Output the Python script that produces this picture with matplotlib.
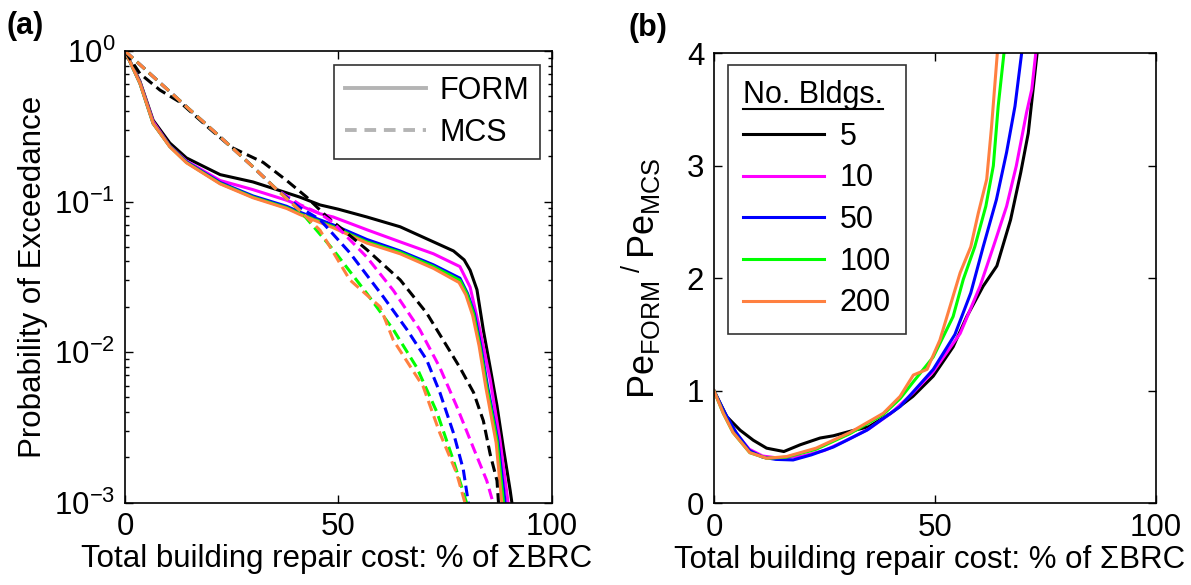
import numpy as np
import matplotlib
matplotlib.use("Agg")
import matplotlib.pyplot as plt
from matplotlib.lines import Line2D

plt.rcParams['font.family'] = ['Liberation Sans', 'DejaVu Sans']
plt.rcParams['mathtext.default'] = 'regular'

# ---- data: (a) probability of exceedance vs total repair cost (% of sum BRC)
# FORM (solid)
x_form_5 = [0, 3.5, 6.6, 10.5, 14.4, 22.3, 30, 35.6, 41, 45.7, 50, 56.7, 64.5, 72.3, 77, 79.5,
            80.9, 82.5, 84, 85.6, 87.2, 88.7, 90.3, 90.8]
p_form_5 = [1.0, 0.63, 0.347, 0.245, 0.195, 0.151, 0.135, 0.12, 0.107, 0.095, 0.089, 0.079, 0.068,
            0.054, 0.047, 0.041, 0.035, 0.026, 0.014, 0.0079, 0.0044, 0.0023, 0.0012, 0.00095]
x_form_10 = [0, 3.5, 6.6, 10.5, 14.4, 22.3, 30, 37.9, 45.7, 48.8, 56.7, 64.5, 72.3, 78.5, 80.9,
             83.2, 85.6, 87.9, 89.9]
p_form_10 = [1.0, 0.62, 0.34, 0.234, 0.186, 0.138, 0.12, 0.102, 0.083, 0.079, 0.065, 0.054, 0.045,
             0.037, 0.027, 0.014, 0.0066, 0.0026, 0.00095]
x_form_50 = [0, 3.5, 6.6, 10.5, 14.4, 22.3, 30, 37.9, 41, 48.8, 56.7, 64.5, 72.3, 78.5, 80.3, 81.9,
             83.4, 85.0, 87.4, 89.2]
p_form_50 = [1.0, 0.61, 0.33, 0.233, 0.184, 0.134, 0.109, 0.093, 0.085, 0.07, 0.056, 0.047, 0.038,
             0.031, 0.0245, 0.018, 0.011, 0.0059, 0.0026, 0.00095]
x_form_100 = [0, 3.5, 6.6, 10.5, 14.4, 22.3, 30, 37.9, 41, 48.8, 56.7, 64.5, 72.3, 78.5, 80.1, 81.7,
              83.2, 84.8, 87.2, 88.8]
p_form_100 = [1.0, 0.61, 0.33, 0.232, 0.182, 0.132, 0.107, 0.091, 0.083, 0.068, 0.054, 0.046,
              0.037, 0.030, 0.0245, 0.018, 0.011, 0.0059, 0.0026, 0.00095]
x_form_200 = [0, 3.5, 6.6, 10.5, 14.4, 22.3, 30, 37.9, 41, 48.8, 56.7, 64.5, 72.3, 78.3, 79.9, 81.5,
              83.0, 84.6, 87.0, 88.4]
p_form_200 = [1.0, 0.61, 0.33, 0.231, 0.181, 0.131, 0.106, 0.09, 0.082, 0.067, 0.053, 0.045,
              0.036, 0.029, 0.024, 0.0175, 0.011, 0.0058, 0.0025, 0.00095]

# MCS (dashed)
x_mcs_5 = [0, 3.5, 8.2, 12.9, 20, 25, 32.4, 37.9, 42.6, 47.3, 51.2, 56.7, 64.5, 70.7, 74.6, 78.5,
           81.7, 84, 85.6, 87.2, 87.6]
p_mcs_5 = [1.0, 0.708, 0.550, 0.457, 0.302, 0.229, 0.182, 0.138, 0.107, 0.0794, 0.0646, 0.0479,
           0.0302, 0.0182, 0.0120, 0.0079, 0.0054, 0.0035, 0.0021, 0.0014, 0.00095]
x_mcs_10 = [0, 3.5, 6.6, 14.4, 22.3, 30, 35.6, 41, 45.7, 48.8, 56.7, 62.9, 69.1, 73.8, 77.7, 81.7,
            84.8, 86.5]
p_mcs_10 = [1.0, 0.813, 0.676, 0.427, 0.269, 0.170, 0.120, 0.0955, 0.0832, 0.0724, 0.0427, 0.0257,
            0.0141, 0.0079, 0.0044, 0.0023, 0.0014, 0.00095]
x_mcs_50 = [0, 3.5, 6.6, 14.4, 22.3, 30, 35.6, 41, 45.7, 52.7, 60.5, 66.1, 70.7, 73.8, 77, 79.3, 80.6]
p_mcs_50 = [1.0, 0.813, 0.676, 0.427, 0.269, 0.170, 0.120, 0.0912, 0.0759, 0.0457, 0.0234, 0.0141,
            0.0089, 0.0054, 0.0029, 0.00166, 0.00095]
x_mcs_100 = [0, 3.5, 6.6, 14.4, 22.3, 30, 35.6, 41, 48.8, 56.7, 62.9, 68.4, 73.1, 77, 80.3]
p_mcs_100 = [1.0, 0.813, 0.676, 0.427, 0.269, 0.170, 0.120, 0.0871, 0.0479, 0.0245, 0.0141, 0.0079,
             0.0040, 0.0019, 0.00095]
x_mcs_200 = [0, 3.5, 6.6, 14.4, 22.3, 30, 35.6, 41, 45.7, 52.7, 59.8, 62.9, 69.9, 73.8, 77.7, 79.9]
p_mcs_200 = [1.0, 0.813, 0.676, 0.427, 0.269, 0.170, 0.120, 0.0871, 0.0646, 0.0302, 0.0200, 0.0120,
             0.0059, 0.0029, 0.00158, 0.00095]

# ---- data: (b) ratio Pe_FORM / Pe_MCS
x_r_5 = [0, 2.9, 5.9, 8.9, 11.9, 15.8, 19.5, 24, 27, 30.8, 35, 40, 45, 49.6, 54.1, 57.2, 60.9, 64,
         67.1, 69.4, 71.1, 72.2, 73.1]
r_5 = [1.0, 0.77, 0.65, 0.56, 0.49, 0.46, 0.52, 0.58, 0.60, 0.64, 0.68, 0.80, 0.95, 1.13, 1.39, 1.66,
       1.93, 2.11, 2.52, 2.94, 3.29, 3.68, 4.0]
x_r_10 = [0, 2.5, 5, 8, 11, 15, 20, 25, 30, 35, 40, 45, 49.6, 55.7, 60.2, 63.2, 66.2, 68.4, 70.7,
          71.9, 72.8]
r_10 = [1.0, 0.78, 0.62, 0.48, 0.42, 0.40, 0.42, 0.47, 0.56, 0.66, 0.80, 0.98, 1.17, 1.51, 1.93,
        2.28, 2.64, 3.0, 3.47, 3.68, 4.0]
x_r_50 = [0, 2.5, 5, 8, 11, 14, 17.9, 22, 27, 34.6, 42.1, 49.6, 54.5, 58.1, 60.9, 63.9, 66.2, 68.1,
          69.6]
r_50 = [1.0, 0.80, 0.63, 0.47, 0.41, 0.39, 0.385, 0.43, 0.50, 0.65, 0.86, 1.19, 1.50, 1.87, 2.28,
        2.70, 3.12, 3.53, 4.0]
x_r_100 = [0, 2.1, 4.3, 8.1, 11.9, 16.4, 23.1, 30.8, 38.3, 42.1, 45.1, 49.6, 54.1, 56.4, 59, 61.5,
           63.2, 64.3, 65.6]
r_100 = [1.0, 0.80, 0.63, 0.45, 0.40, 0.41, 0.48, 0.62, 0.79, 0.93, 1.08, 1.30, 1.66, 1.99, 2.28,
         2.64, 3.0, 3.53, 4.0]
x_r_200 = [0, 2.1, 4.3, 8.1, 11.9, 16.4, 23.1, 30.8, 38.3, 42.1, 45.1, 48.2, 51.1, 53.4, 55.7,
           58.1, 59.8, 61.7, 62.8, 64.1]
r_200 = [1.0, 0.80, 0.63, 0.45, 0.40, 0.415, 0.49, 0.63, 0.80, 0.95, 1.14, 1.19, 1.45, 1.75, 2.05,
         2.28, 2.58, 2.88, 3.35, 4.0]

n_bldgs = ['5', '10', '50', '100', '200']
colors = ['black', '#ff00ff', '#0000ff', '#00ff00', '#ff8040']

form_x = [x_form_5, x_form_10, x_form_50, x_form_100, x_form_200]
form_p = [p_form_5, p_form_10, p_form_50, p_form_100, p_form_200]
mcs_x = [x_mcs_5, x_mcs_10, x_mcs_50, x_mcs_100, x_mcs_200]
mcs_p = [p_mcs_5, p_mcs_10, p_mcs_50, p_mcs_100, p_mcs_200]
ratio_x = [x_r_5, x_r_10, x_r_50, x_r_100, x_r_200]
ratio_v = [r_5, r_10, r_50, r_100, r_200]

fs_tick = 22.5
fs_lab = 22.5
fs_leg = 22
lw = 2.2

fig = plt.figure(figsize=(11.91, 5.85), dpi=100)
ax1 = fig.add_axes([0.10495, 0.1407, 0.3582, 0.7721])
ax2 = fig.add_axes([0.5995, 0.1397, 0.3711, 0.7692])

# (a)
for c, xs, ps in zip(colors, form_x, form_p):
    ax1.plot(xs, ps, '-', color=c, lw=lw)
for c, xs, ps in zip(colors, mcs_x, mcs_p):
    ax1.plot(xs, ps, '--', color=c, lw=lw, dashes=(3.5, 1.8))
ax1.set_yscale('log')
ax1.set_xlim(0, 100)
ax1.set_ylim(1e-3, 1)
ax1.set_xticks([0, 50, 100])
ax1.set_yticks([1e-3, 1e-2, 1e-1, 1])
ax1.set_yticklabels([r'$10^{-3}$', r'$10^{-2}$', r'$10^{-1}$', r'$10^{0}$'])
ax1.set_xlabel('Total building repair cost: % of \u03a3BRC', fontsize=fs_lab)
ax1.set_ylabel('Probability of Exceedance', fontsize=fs_lab)
ax1.xaxis.set_label_coords(0.497, -0.092)
ax1.yaxis.set_label_coords(-0.18, 0.5)

grey = '#b4b4b4'
h = [Line2D([], [], color=grey, lw=lw + 0.6, ls='-'),
     Line2D([], [], color=grey, lw=lw + 0.6, ls='--', dashes=(3.0, 2.0))]
leg1 = ax1.legend(h, ['FORM', 'MCS'], loc='upper right', bbox_to_anchor=(0.973, 0.969),
                  borderaxespad=0, fontsize=fs_leg, frameon=True, fancybox=False,
                  edgecolor='black', handlelength=2.65, handletextpad=0.45, labelspacing=0.4,
                  borderpad=0.35)
leg1.get_frame().set_linewidth(1.2)

# (b)
for c, xs, vs, lab in zip(colors, ratio_x, ratio_v, n_bldgs):
    ax2.plot(xs, vs, '-', color=c, lw=lw, label=lab)
ax2.set_xlim(0, 100)
ax2.set_ylim(0, 4)
ax2.set_xticks([0, 50, 100])
ax2.set_yticks([0, 1, 2, 3, 4])
ax2.set_xlabel('Total building repair cost: % of \u03a3BRC', fontsize=fs_lab)
ax2.set_ylabel(r'$Pe_{FORM}\,^{/}\,Pe_{MCS}$', fontsize=26)
ax2.xaxis.set_label_coords(0.487, -0.092)
ax2.yaxis.set_label_coords(-0.115, 0.5)
leg2 = ax2.legend(loc='upper left', bbox_to_anchor=(0.032, 0.974), borderaxespad=0,
                  fontsize=fs_leg, title='No. Bldgs.', title_fontsize=fs_leg,
                  alignment='left', frameon=True, fancybox=False, edgecolor='black',
                  handlelength=2.65, handletextpad=0.5, labelspacing=0.38, borderpad=0.5)
leg2.get_frame().set_linewidth(1.2)

for ax in (ax1, ax2):
    ax.tick_params(which='major', direction='in', length=6, width=1, top=True, right=True,
                   labelsize=fs_tick, pad=7)
    ax.tick_params(which='minor', direction='in', length=3, width=1, top=True, right=True)
    for s in ax.spines.values():
        s.set_linewidth(1.2)
ax1.tick_params(axis='x', which='minor', top=False, bottom=False)

fig.text(7 / 1191, 1 - 11 / 585, '(a)', fontsize=22, fontweight='bold', ha='left', va='top')
fig.text(628 / 1191, 1 - 13 / 585, '(b)', fontsize=22, fontweight='bold', ha='left', va='top')

# underline the legend title
fig.canvas.draw()
bb = leg2.get_title().get_window_extent()
fig.add_artist(Line2D([bb.x0, bb.x1], [bb.y0 + 1, bb.y0 + 1], color='black', lw=1.5,
                      transform=None))

fig.savefig('out.png', dpi=100)
